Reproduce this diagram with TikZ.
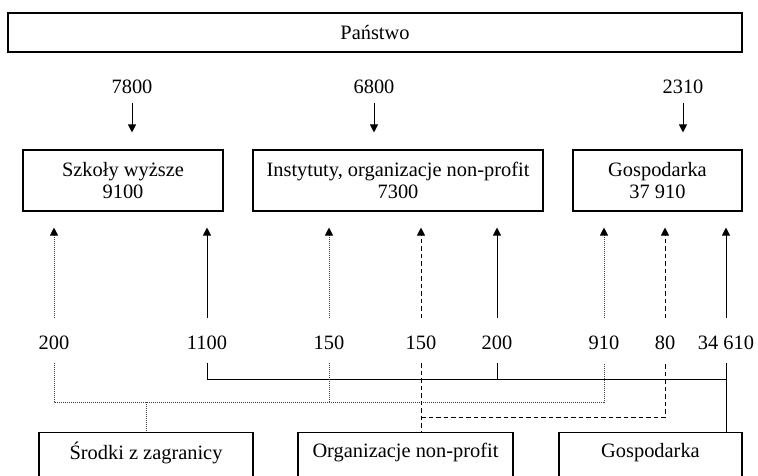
\documentclass[tikz,border=0pt]{standalone}
\usepackage{fontspec}
\setmainfont{Liberation Serif}
\usetikzlibrary{arrows.meta}
\begin{document}
\begin{tikzpicture}[x=1pt,y=-1pt,
  font=\fontsize{20.4}{22}\selectfont,
  box/.style={draw, line width=1.1pt, align=center, inner sep=0pt},
  num/.style={inner sep=0pt},
  arr/.style={line width=1pt, -{Triangle[length=8pt,width=8pt,color=black]}},
  dotline/.style={line width=0.9pt, dash pattern=on 1pt off 1pt, black!75},
  dashline/.style={line width=1pt, dash pattern=on 4.5pt off 3pt},
  sol/.style={line width=1pt}]
\useasboundingbox (0,0) rectangle (758,475);
\clip (0,0) rectangle (758,475);
% top box
\node[box, minimum width=734pt, minimum height=39pt] (pan) at (375,32.5) {Państwo};
% middle boxes
\node[box, minimum width=200pt, minimum height=61pt] (szk) at (123,180.5) {Szkoły wyższe\\9100};
\node[box, minimum width=290pt, minimum height=61pt] (ins) at (398,180.5) {Instytuty, organizacje non-profit\\7300};
\node[box, minimum width=169pt, minimum height=61pt] (gos) at (657.5,180.5) {Gospodarka\\37 910};
% top numbers
\node[num] (t1) at (132,87) {7800};
\node[num] (t2) at (374,87) {6800};
\node[num] (t3) at (683,87) {2310};
\draw[arr, shorten <=16pt, shorten >=17pt] (t1.center) -- (t1 |- szk.north);
\draw[arr, shorten <=16pt, shorten >=17pt] (t2.center) -- (t2 |- ins.north);
\draw[arr, shorten <=16pt, shorten >=17pt] (t3.center) -- (t3 |- gos.north);
% bottom boxes
\node[box, minimum width=214pt, minimum height=60pt, anchor=north] (srb) at (146,432) {};
\node[num] (srt) at (146,453) {Środki z zagranicy};
\node[box, minimum width=215pt, minimum height=60pt, anchor=north] (orb) at (405.5,432) {};
\node[num] (ort) at (405.5,453) {Organizacje non-profit};
\node[box, minimum width=183pt, minimum height=60pt, anchor=north] (gob) at (650.5,432) {};
\node[num] (got) at (650.5,453) {Gospodarka};
% middle numbers
\node[num] (a1) at (54,343) {200};
\node[num] (a2) at (207,343) {1100};
\node[num] (a3) at (329,343) {150};
\node[num] (a4) at (421,343) {150};
\node[num] (a5) at (497,343) {200};
\node[num] (a6) at (604,343) {910};
\node[num] (a7) at (665,343) {80};
\node[num] (a8) at (726,343) {34 610};
% up arrows
\draw[arr, dotline, shorten <=25pt, shorten >=16pt] (a1.center) -- (a1 |- szk.south);
\draw[arr, sol, shorten <=25pt, shorten >=16pt] (a2.center) -- (a2 |- szk.south);
\draw[arr, dotline, shorten <=25pt, shorten >=16pt] (a3.center) -- (a3 |- ins.south);
\draw[arr, dashline, shorten <=25pt, shorten >=16pt] (a4.center) -- (a4 |- ins.south);
\draw[arr, sol, shorten <=25pt, shorten >=16pt] (a5.center) -- (a5 |- ins.south);
\draw[arr, dotline, shorten <=25pt, shorten >=16pt] (a6.center) -- (a6 |- gos.south);
\draw[arr, dashline, shorten <=25pt, shorten >=16pt] (a7.center) -- (a7 |- gos.south);
\draw[arr, sol, shorten <=25pt, shorten >=16pt] (a8.center) -- (a8 |- gos.south);
% coordinates for bus lines
\coordinate (ys) at (0,379);
\coordinate (yd) at (0,402);
\coordinate (yh) at (0,417);
% solid network (Gospodarka)
\draw[sol] ([yshift=-20pt]a2.center) -- (a2 |- ys) -- (a8 |- ys);
\draw[sol] ([yshift=-20pt]a5.center) -- (a5 |- ys);
\draw[sol] ([yshift=-20pt]a8.center) -- (a8 |- gob.north);
% dotted network (Srodki z zagranicy)
\draw[dotline] ([yshift=-20pt]a1.center) -- (a1 |- yd) -- (a6 |- yd) -- ([yshift=-20pt]a6.center);
\draw[dotline] ([yshift=-20pt]a3.center) -- (a3 |- yd);
\draw[dotline] (srb.north |- yd) -- (srb.north);
% dashed network (Organizacje non-profit)
\draw[dashline] ([yshift=-20pt]a4.center) -- (a4 |- orb.north);
\draw[dashline] (a4 |- yh) -- (a7 |- yh) -- ([yshift=-20pt]a7.center);
\end{tikzpicture}
\end{document}
